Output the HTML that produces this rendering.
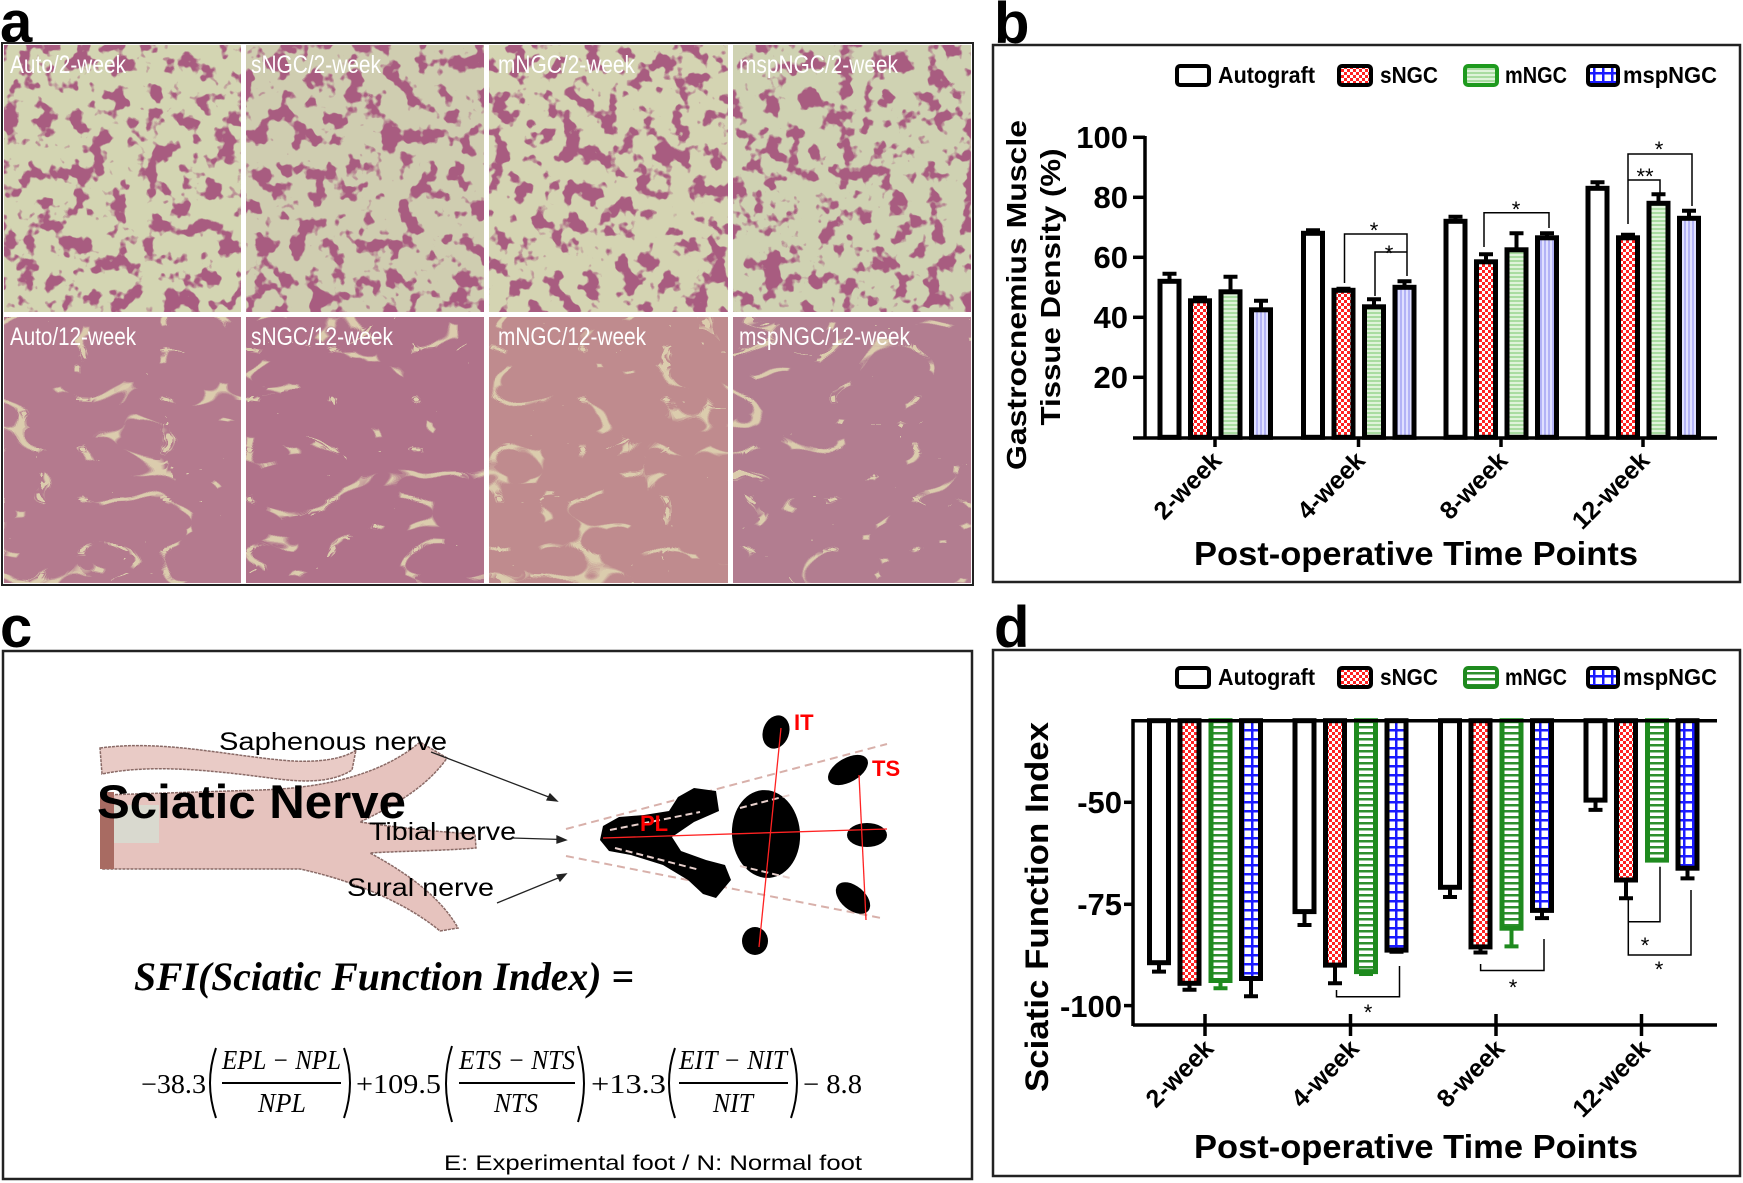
<!DOCTYPE html>
<html><head><meta charset="utf-8"><style>html,body{margin:0;padding:0;background:#fff}svg{display:block}</style></head><body>
<svg xmlns="http://www.w3.org/2000/svg" width="1743" height="1183" viewBox="0 0 1743 1183" font-family="Liberation Sans, Arial, sans-serif">
<defs>
<pattern id="chk" width="6" height="6" patternUnits="userSpaceOnUse"><rect width="6" height="6" fill="#fff"/><rect width="3" height="3" fill="#f22"/><rect x="3" y="3" width="3" height="3" fill="#f22"/></pattern>
<pattern id="grb" width="4" height="4" patternUnits="userSpaceOnUse"><rect width="4" height="4" fill="#dff3da"/><rect width="4" height="2" fill="#a9dca1"/></pattern>
<pattern id="lvb" width="4" height="4" patternUnits="userSpaceOnUse"><rect width="4" height="4" fill="#e0e0ff"/><rect width="2" height="4" fill="#b3b3f6"/></pattern>
<pattern id="grd" width="6" height="6" patternUnits="userSpaceOnUse"><rect width="6" height="6" fill="#fff"/><rect width="6" height="2.5" fill="#2e8f2e"/></pattern>
<pattern id="bld" width="9" height="9" patternUnits="userSpaceOnUse"><rect width="9" height="9" fill="#fff"/><rect width="9" height="2.5" fill="#1a1aff"/><rect width="2.5" height="9" fill="#1a1aff"/></pattern>
<filter id="c1" x="0" y="0" width="1" height="1" color-interpolation-filters="sRGB"><feTurbulence type="fractalNoise" baseFrequency="0.055" numOctaves="3" seed="3"/><feColorMatrix type="matrix" values="0 0 0 0 0.66  0 0 0 0 0.36  0 0 0 0 0.50  12 0 0 0 -6.4"/></filter>
<filter id="c2" x="0" y="0" width="1" height="1" color-interpolation-filters="sRGB"><feTurbulence type="turbulence" baseFrequency="0.012 0.02" numOctaves="2" seed="7"/><feColorMatrix type="matrix" values="0 0 0 0 0.86  0 0 0 0 0.80  0 0 0 0 0.68  -30 0 0 0 2.2"/></filter>
</defs>
<rect width="1743" height="1183" fill="#fff"/>

<!-- Panel a -->
<text x="0" y="42" font-size="58" font-weight="bold">a</text>
<rect x="2" y="43" width="971" height="542" fill="#fff" stroke="#222" stroke-width="2"/>
<g>
<rect x="4" y="45" width="237" height="267" fill="#d3d5b2"/><rect x="4" y="45" width="237" height="267" fill="#000" filter="url(#c1)"/>
<rect x="246" y="45" width="238" height="267" fill="#cfcdb0"/><rect x="246" y="45" width="238" height="267" filter="url(#c1)"/>
<rect x="489" y="45" width="239" height="267" fill="#d4d4b2"/><rect x="489" y="45" width="239" height="267" filter="url(#c1)"/>
<rect x="733" y="45" width="238" height="267" fill="#cfd2b2"/><rect x="733" y="45" width="238" height="267" filter="url(#c1)"/>
<rect x="4" y="317" width="237" height="266" fill="#b47a8e"/><rect x="4" y="317" width="237" height="266" filter="url(#c2)"/>
<rect x="246" y="317" width="238" height="266" fill="#b0728a"/><rect x="246" y="317" width="238" height="266" filter="url(#c2)"/>
<rect x="489" y="317" width="239" height="266" fill="#bf8b8e"/><rect x="489" y="317" width="239" height="266" filter="url(#c2)"/>
<rect x="733" y="317" width="238" height="266" fill="#b27d90"/><rect x="733" y="317" width="238" height="266" filter="url(#c2)"/>
</g>
<g fill="#fff" font-size="25">
<text x="10" y="73" textLength="116" lengthAdjust="spacingAndGlyphs">Auto/2-week</text>
<text x="251" y="73" textLength="130" lengthAdjust="spacingAndGlyphs">sNGC/2-week</text>
<text x="498" y="73" textLength="137" lengthAdjust="spacingAndGlyphs">mNGC/2-week</text>
<text x="739" y="73" textLength="159" lengthAdjust="spacingAndGlyphs">mspNGC/2-week</text>
<text x="10" y="345" textLength="126" lengthAdjust="spacingAndGlyphs">Auto/12-week</text>
<text x="251" y="345" textLength="142" lengthAdjust="spacingAndGlyphs">sNGC/12-week</text>
<text x="498" y="345" textLength="148" lengthAdjust="spacingAndGlyphs">mNGC/12-week</text>
<text x="739" y="345" textLength="171" lengthAdjust="spacingAndGlyphs">mspNGC/12-week</text>
</g>

<!-- Panel b -->
<text x="994" y="43" font-size="58" font-weight="bold">b</text>
<rect x="993" y="45" width="747" height="537" fill="none" stroke="#222" stroke-width="2.5"/>
<g font-size="23" font-weight="bold">
<rect x="1177" y="66" width="32" height="19" rx="3" fill="#fff" stroke="#000" stroke-width="4"/><text x="1218" y="83" textLength="97" lengthAdjust="spacingAndGlyphs">Autograft</text>
<rect x="1339" y="66" width="32" height="19" rx="3" fill="url(#chk)" stroke="#000" stroke-width="4"/><text x="1380" y="83" textLength="58" lengthAdjust="spacingAndGlyphs">sNGC</text>
<rect x="1465" y="66" width="32" height="19" rx="3" fill="url(#grb)" stroke="#1e9a1e" stroke-width="4"/><text x="1505" y="83" textLength="62" lengthAdjust="spacingAndGlyphs">mNGC</text>
<rect x="1588" y="66" width="30" height="19" rx="3" fill="url(#bld)" stroke="#000" stroke-width="4"/><text x="1623" y="83" textLength="94" lengthAdjust="spacingAndGlyphs">mspNGC</text>
</g>
<g stroke="#000" stroke-width="3.5" fill="none">
<line x1="1145" y1="136" x2="1145" y2="438"/>
<line x1="1133" y1="438" x2="1717" y2="438"/>
<line x1="1133" y1="137.3" x2="1145" y2="137.3"/><line x1="1133" y1="197.3" x2="1145" y2="197.3"/><line x1="1133" y1="257.3" x2="1145" y2="257.3"/><line x1="1133" y1="317.3" x2="1145" y2="317.3"/><line x1="1133" y1="377.3" x2="1145" y2="377.3"/>
<line x1="1215" y1="438" x2="1215" y2="447"/><line x1="1358.5" y1="438" x2="1358.5" y2="447"/><line x1="1501" y1="438" x2="1501" y2="447"/><line x1="1643" y1="438" x2="1643" y2="447"/>
</g>
<g font-size="31" font-weight="bold" text-anchor="end">
<text x="1128" y="148">100</text><text x="1128" y="208">80</text><text x="1128" y="268">60</text><text x="1128" y="328">40</text><text x="1128" y="388">20</text>
</g>
<g font-weight="bold" font-size="28" text-anchor="middle">
<text transform="translate(1026,295) rotate(-90)" textLength="350" lengthAdjust="spacingAndGlyphs">Gastrocnemius Muscle</text>
<text transform="translate(1060,287) rotate(-90)" textLength="277" lengthAdjust="spacingAndGlyphs">Tissue Density (%)</text>
</g>
<g stroke="#000" stroke-width="5">
<rect x="1160" y="281.3" width="19" height="156" fill="#fff"/>
<rect x="1190.5" y="300.8" width="19" height="136.5" fill="url(#chk)"/>
<rect x="1221" y="291.8" width="19" height="145.5" fill="url(#grb)"/>
<rect x="1251.5" y="309.8" width="19" height="127.5" fill="url(#lvb)"/>
<rect x="1303.5" y="233.3" width="19" height="204" fill="#fff"/>
<rect x="1334" y="290.3" width="19" height="147" fill="url(#chk)"/>
<rect x="1364.5" y="306.8" width="19" height="130.5" fill="url(#grb)"/>
<rect x="1395" y="287.3" width="19" height="150" fill="url(#lvb)"/>
<rect x="1446" y="221.3" width="19" height="216" fill="#fff"/>
<rect x="1476.5" y="261.8" width="19" height="175.5" fill="url(#chk)"/>
<rect x="1507" y="249.8" width="19" height="187.5" fill="url(#grb)"/>
<rect x="1537.5" y="237.8" width="19" height="199.5" fill="url(#lvb)"/>
<rect x="1588" y="188.3" width="19" height="249" fill="#fff"/>
<rect x="1618.5" y="237.8" width="19" height="199.5" fill="url(#chk)"/>
<rect x="1649" y="203.3" width="19" height="234" fill="url(#grb)"/>
<rect x="1679.5" y="218.3" width="19" height="219" fill="url(#lvb)"/>
</g>
<g stroke="#000" stroke-width="4" fill="none">
<path d="M1169.5 281.3V273.8M1162.5 273.8H1176.5"/>
<path d="M1200 300.8V297.8M1193 297.8H1207"/>
<path d="M1230.5 291.8V276.8M1223.5 276.8H1237.5"/>
<path d="M1261 309.8V300.8M1254 300.8H1268"/>
<path d="M1313 233.3V230.3M1306 230.3H1320"/>
<path d="M1343.5 290.3V288.8M1336.5 288.8H1350.5"/>
<path d="M1374 306.8V299.3M1367 299.3H1381"/>
<path d="M1404.5 287.3V281.3M1397.5 281.3H1411.5"/>
<path d="M1455.5 221.3V216.8M1448.5 216.8H1462.5"/>
<path d="M1486 261.8V254.3M1479 254.3H1493"/>
<path d="M1516.5 249.8V233.3M1509.5 233.3H1523.5"/>
<path d="M1547 237.8V233.3M1540 233.3H1554"/>
<path d="M1597.5 188.3V182.3M1590.5 182.3H1604.5"/>
<path d="M1628 237.8V234.8M1621 234.8H1635"/>
<path d="M1658.5 203.3V194.3M1651.5 194.3H1665.5"/>
<path d="M1689 218.3V210.8M1682 210.8H1696"/>
</g>
<g stroke="#000" stroke-width="1.5" fill="none">
<path d="M1344.5 283V234H1407V276"/>
<path d="M1375 296V252H1407"/>
<path d="M1484 247V212.7H1549V228"/>
<path d="M1628 224V154H1692V206"/>
<path d="M1628 180H1660V193"/>
</g>
<g font-size="22" text-anchor="middle">
<text x="1374" y="238">*</text><text x="1389" y="261">*</text><text x="1516" y="217">*</text><text x="1659" y="157">*</text><text x="1645" y="184">**</text>
</g>
<g font-size="25" font-weight="bold" text-anchor="end">
<text transform="translate(1223,462) rotate(-45)">2-week</text>
<text transform="translate(1366.5,462) rotate(-45)">4-week</text>
<text transform="translate(1509,462) rotate(-45)">8-week</text>
<text transform="translate(1651,462) rotate(-45)">12-week</text>
</g>
<text x="1194" y="565" font-size="33" font-weight="bold" textLength="444" lengthAdjust="spacingAndGlyphs">Post-operative Time Points</text>

<!-- Panel c -->
<text x="0" y="647" font-size="58" font-weight="bold">c</text>
<rect x="3" y="651" width="969" height="528" fill="none" stroke="#222" stroke-width="2.5"/>
<g stroke="#8a6a66" stroke-width="1.5" stroke-dasharray="3 1">
<path d="M100 748C160 740 220 754 280 760C320 764 345 758 356 750L352 770C330 784 300 782 270 778C210 770 150 764 102 774Z" fill="#e9cbc6"/>
<path d="M103 795L260 790C330 788 385 772 420 742L447 758C425 790 385 810 360 822C400 828 440 832 475 834L476 848C440 851 400 851 370 853C405 872 440 896 458 928L440 931C410 906 360 882 300 869L103 869Z" fill="#e6c3be"/>
</g>
<rect x="100" y="792" width="14" height="77" fill="#a86b62"/>
<rect x="114" y="805" width="45" height="38" fill="#d9d9cf"/>
<text x="97" y="818" font-size="47" font-weight="bold" textLength="309" lengthAdjust="spacingAndGlyphs">Sciatic Nerve</text>
<g font-size="25">
<text x="219" y="750" textLength="228" lengthAdjust="spacingAndGlyphs">Saphenous nerve</text>
<text x="369" y="840" textLength="147" lengthAdjust="spacingAndGlyphs">Tibial nerve</text>
<text x="347" y="896" textLength="147" lengthAdjust="spacingAndGlyphs">Sural nerve</text>
</g>
<g stroke="#222" stroke-width="1.3" fill="#222">
<line x1="431" y1="752" x2="554" y2="799"/><path d="M557 801l-10 -1l3 -6z"/>
<line x1="512" y1="838" x2="562" y2="839.5"/><path d="M566 840l-9 3v-7z"/>
<line x1="497" y1="903" x2="563" y2="876"/><path d="M566 874l-6 7l-3 -6z"/>
</g>
<g stroke="#d8b0aa" stroke-width="2" stroke-dasharray="8 5" fill="none">
<line x1="566" y1="829" x2="887" y2="744"/><line x1="566" y1="856" x2="881" y2="918"/>
</g>
<g fill="#000">
<ellipse cx="776" cy="732" rx="13" ry="17" transform="rotate(20 776 732)"/>
<ellipse cx="848" cy="770" rx="22" ry="12" transform="rotate(-30 848 770)"/>
<ellipse cx="867" cy="835" rx="20" ry="12"/>
<ellipse cx="853" cy="898" rx="20" ry="12" transform="rotate(40 853 898)"/>
<ellipse cx="755" cy="941" rx="13" ry="14"/>
<ellipse cx="766" cy="834" rx="34" ry="44" transform="rotate(-5 766 834)"/>
<path d="M603 826L619 817L644 815L669 811L678 797L694 788L716 791L719 811L694 822L672 837L681 851L706 860L725 865L731 880L716 898L703 894L688 880L663 865L631 855L609 851L600 840Z"/>
</g>
<g stroke="#e8d0cc" stroke-width="2" stroke-dasharray="7 4" fill="none">
<path d="M610 830L700 812"/><path d="M615 848L700 870"/><path d="M740 808L790 795"/><path d="M740 866L790 878"/>
</g>
<g stroke="#f22" stroke-width="1.3">
<line x1="781" y1="728" x2="759" y2="947"/><line x1="603" y1="838" x2="887" y2="829"/><line x1="859" y1="775" x2="866" y2="920"/>
</g>
<g fill="#f00" font-weight="bold" font-size="22">
<text x="794" y="730">IT</text><text x="872" y="776">TS</text><text x="640" y="831">PL</text>
</g>
<g font-family="Liberation Serif, serif" font-style="italic">
<text x="134" y="990" font-size="40" font-weight="bold" textLength="500" lengthAdjust="spacingAndGlyphs">SFI(Sciatic Function Index) =</text>
<g font-size="27">
<text x="141" y="1093" font-style="normal" textLength="65" lengthAdjust="spacingAndGlyphs">−38.3</text>
<text x="222" y="1069" textLength="119" lengthAdjust="spacingAndGlyphs">EPL − NPL</text>
<text x="258" y="1112" textLength="48" lengthAdjust="spacingAndGlyphs">NPL</text>
<text x="356" y="1093" font-style="normal" textLength="85" lengthAdjust="spacingAndGlyphs">+109.5</text>
<text x="459" y="1069" textLength="116" lengthAdjust="spacingAndGlyphs">ETS − NTS</text>
<text x="494" y="1112" textLength="44" lengthAdjust="spacingAndGlyphs">NTS</text>
<text x="591" y="1093" font-style="normal" textLength="75" lengthAdjust="spacingAndGlyphs">+13.3</text>
<text x="679" y="1069" textLength="108" lengthAdjust="spacingAndGlyphs">EIT − NIT</text>
<text x="713" y="1112" textLength="40" lengthAdjust="spacingAndGlyphs">NIT</text>
<text x="803" y="1093" font-style="normal" textLength="59" lengthAdjust="spacingAndGlyphs">− 8.8</text>
</g>
</g>
<g stroke="#000" stroke-width="2" fill="none">
<line x1="222" y1="1083" x2="341" y2="1083"/><line x1="459" y1="1083" x2="575" y2="1083"/><line x1="679" y1="1083" x2="788" y2="1083"/>
<path d="M216 1048Q204 1083 216 1118"/><path d="M344 1048Q356 1083 344 1118"/>
<path d="M452 1046Q440 1083 452 1122"/><path d="M578 1046Q590 1083 578 1122"/>
<path d="M675 1048Q663 1083 675 1118"/><path d="M791 1048Q803 1083 791 1118"/>
</g>
<text x="444" y="1170" font-size="21" textLength="418" lengthAdjust="spacingAndGlyphs">E: Experimental foot / N: Normal foot</text>

<!-- Panel d -->
<text x="994" y="647" font-size="58" font-weight="bold">d</text>
<rect x="993" y="650" width="747" height="526" fill="none" stroke="#222" stroke-width="2.5"/>
<g font-size="23" font-weight="bold">
<rect x="1177" y="668" width="32" height="19" rx="3" fill="#fff" stroke="#000" stroke-width="4"/><text x="1218" y="685" textLength="97" lengthAdjust="spacingAndGlyphs">Autograft</text>
<rect x="1339" y="668" width="32" height="19" rx="3" fill="url(#chk)" stroke="#000" stroke-width="4"/><text x="1380" y="685" textLength="58" lengthAdjust="spacingAndGlyphs">sNGC</text>
<rect x="1465" y="668" width="32" height="19" rx="3" fill="url(#grd)" stroke="#1e8a1e" stroke-width="4"/><text x="1505" y="685" textLength="62" lengthAdjust="spacingAndGlyphs">mNGC</text>
<rect x="1588" y="668" width="30" height="19" rx="3" fill="url(#bld)" stroke="#000" stroke-width="4"/><text x="1623" y="685" textLength="94" lengthAdjust="spacingAndGlyphs">mspNGC</text>
</g>
<g stroke-width="5" stroke="#000">
<rect x="1149.5" y="720.7" width="19" height="242" fill="#fff"/>
<rect x="1180" y="720.7" width="19" height="262.6" fill="url(#chk)"/>
<rect x="1211" y="720.7" width="19" height="259.8" fill="url(#grd)" stroke="#1e8a1e"/>
<rect x="1241.5" y="720.7" width="19" height="257.8" fill="url(#bld)"/>
<rect x="1295" y="720.7" width="19" height="190.9" fill="#fff"/>
<rect x="1325.5" y="720.7" width="19" height="244.4" fill="url(#chk)"/>
<rect x="1356.5" y="720.7" width="19" height="250.9" fill="url(#grd)" stroke="#1e8a1e"/>
<rect x="1387" y="720.7" width="19" height="229.4" fill="url(#bld)"/>
<rect x="1440.5" y="720.7" width="19" height="166.6" fill="#fff"/>
<rect x="1471" y="720.7" width="19" height="226.2" fill="url(#chk)"/>
<rect x="1502" y="720.7" width="19" height="207.5" fill="url(#grd)" stroke="#1e8a1e"/>
<rect x="1532.5" y="720.7" width="19" height="189.7" fill="url(#bld)"/>
<rect x="1586" y="720.7" width="19" height="79.4" fill="#fff"/>
<rect x="1616.5" y="720.7" width="19" height="159.3" fill="url(#chk)"/>
<rect x="1647.5" y="720.7" width="19" height="139.4" fill="url(#grd)" stroke="#1e8a1e"/>
<rect x="1678" y="720.7" width="19" height="147.5" fill="url(#bld)"/>
</g>
<g stroke="#000" stroke-width="4" fill="none">
<path d="M1159 962.7V971.6M1152 971.6H1166"/>
<path d="M1189.5 983.3V989.8M1182.5 989.8H1196.5"/>
<path d="M1220.5 980.5V988.2M1213.5 988.2H1227.5" stroke="#1e8a1e"/>
<path d="M1251 978.5V996.3M1244 996.3H1258"/>
<path d="M1304.5 911.6V925M1297.5 925H1311.5"/>
<path d="M1335 965.1V983.3M1328 983.3H1342"/>
<path d="M1366 971.6V974M1359 974H1373" stroke="#1e8a1e"/>
<path d="M1396.5 950.1V951.7M1389.5 951.7H1403.5"/>
<path d="M1450 887.3V897M1443 897H1457"/>
<path d="M1480.5 946.9V952.5M1473.5 952.5H1487.5"/>
<path d="M1511.5 928.2V946.4M1504.5 946.4H1518.5" stroke="#1e8a1e"/>
<path d="M1542 910.4V918.1M1535 918.1H1549"/>
<path d="M1595.5 800.1V809.9M1588.5 809.9H1602.5"/>
<path d="M1626 880V898.2M1619 898.2H1633"/>
<path d="M1687.5 868.2V878.4M1680.5 878.4H1694.5"/>
</g>
<g stroke="#000" stroke-width="3.5" fill="none">
<line x1="1133" y1="720.7" x2="1717" y2="720.7"/>
<line x1="1133" y1="719" x2="1133" y2="1026"/>
<line x1="1133" y1="1025" x2="1717" y2="1025"/>
<line x1="1124" y1="802.3" x2="1133" y2="802.3"/><line x1="1124" y1="904.3" x2="1133" y2="904.3"/><line x1="1124" y1="1005.6" x2="1133" y2="1005.6"/>
<line x1="1205" y1="1014" x2="1205" y2="1036"/><line x1="1350.5" y1="1014" x2="1350.5" y2="1036"/><line x1="1496" y1="1014" x2="1496" y2="1036"/><line x1="1641.5" y1="1014" x2="1641.5" y2="1036"/>
</g>
<g stroke="#000" stroke-width="1.5" fill="none">
<path d="M1336.5 990V996.7H1399.5V966"/>
<path d="M1480.6 964V970.5H1544V939"/>
<path d="M1628.3 900V955H1691V890"/>
<path d="M1628.3 921.7H1660V866.7"/>
</g>
<g font-size="22" text-anchor="middle">
<text x="1368" y="1020">*</text><text x="1513" y="995">*</text><text x="1645" y="953">*</text><text x="1659" y="977">*</text>
</g>
<g font-size="31" font-weight="bold" text-anchor="end">
<text x="1122" y="813">-50</text><text x="1122" y="915">-75</text><text x="1122" y="1017">-100</text>
</g>
<text transform="translate(1048,907) rotate(-90)" font-size="32" font-weight="bold" text-anchor="middle" textLength="370" lengthAdjust="spacingAndGlyphs">Sciatic Function Index</text>
<g font-size="25" font-weight="bold" text-anchor="end">
<text transform="translate(1215,1050) rotate(-45)">2-week</text>
<text transform="translate(1360.5,1050) rotate(-45)">4-week</text>
<text transform="translate(1506,1050) rotate(-45)">8-week</text>
<text transform="translate(1651.5,1050) rotate(-45)">12-week</text>
</g>
<text x="1194" y="1158" font-size="33" font-weight="bold" textLength="444" lengthAdjust="spacingAndGlyphs">Post-operative Time Points</text>
</svg>
</body></html>
